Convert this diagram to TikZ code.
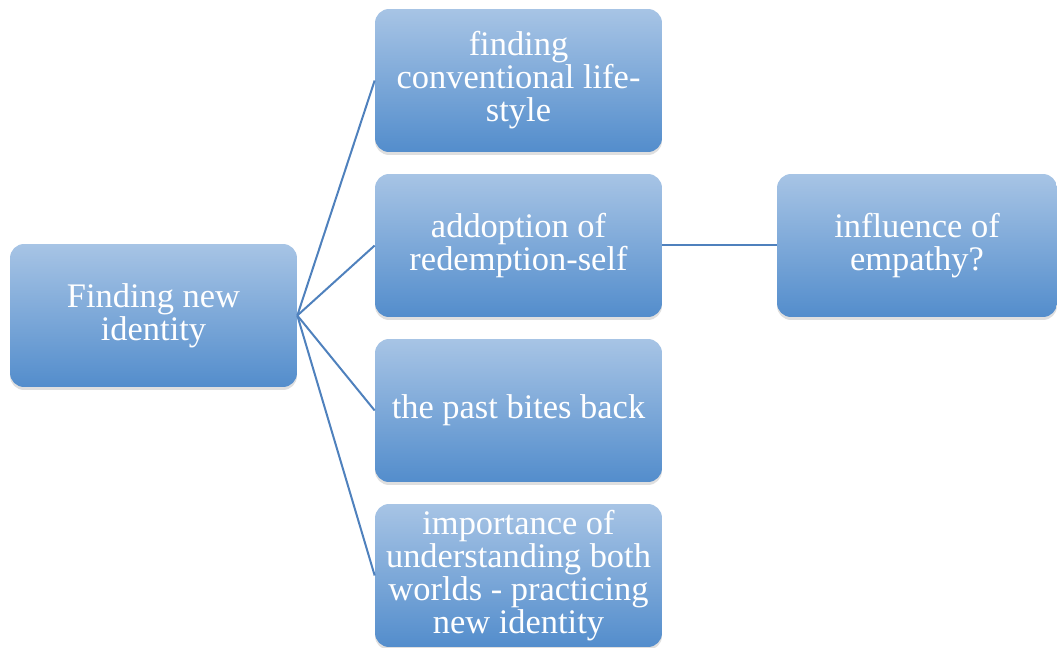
\documentclass[tikz,border=0pt]{standalone}
\usepackage{fontspec}
\setmainfont{Liberation Serif}
\usetikzlibrary{shadows}
\tikzset{
  idea-box/.style={
    rectangle,
    rounded corners=0.28cm,
    top color=boxtop,
    bottom color=boxbottom,
    text=white,
    align=center,
    inner sep=1pt,
    minimum width=5.74cm,
    minimum height=2.86cm,
    font=\fontsize{19.6}{18.8}\selectfont,
    drop shadow={opacity=0.25, shadow xshift=0pt, shadow yshift=-0.06cm}
  },
  idea-wide/.style={idea-box, minimum width=5.6cm},
  idea-link/.style={draw=linkblue, line width=0.04cm}
}
\definecolor{boxtop}{RGB}{167,196,229}
\definecolor{boxbottom}{RGB}{83,141,204}
\definecolor{linkblue}{RGB}{79,129,189}

\begin{document}
\begin{tikzpicture}[x=0.02cm,y=-0.02cm]
  \useasboundingbox (0,0) rectangle (1057,648);
  % root
  \node[idea-box] (identity) at (153.5,315.5) {Finding new\\identity};
  % branches
  \node[idea-box] (lifestyle) at (518.5,80.5) {finding\\conventional life-\\style};
  \node[idea-box] (redemption) at (518.5,245.5) {addoption of\\redemption-self};
  \node[idea-box] (past) at (518.5,410.5) {the past bites back};
  \node[idea-box] (worlds) at (518.5,575.5) {importance of\\understanding both\\worlds - practicing\\new identity};
  \node[idea-wide] (empathy) at (917,245.5) {influence of\\empathy?};
  % links
  \foreach \child in {lifestyle,redemption,past,worlds}{
    \draw[idea-link] (identity.east) -- (\child.west);
  }
  \draw[idea-link] (redemption.east) -- (empathy.west);
\end{tikzpicture}
\end{document}
